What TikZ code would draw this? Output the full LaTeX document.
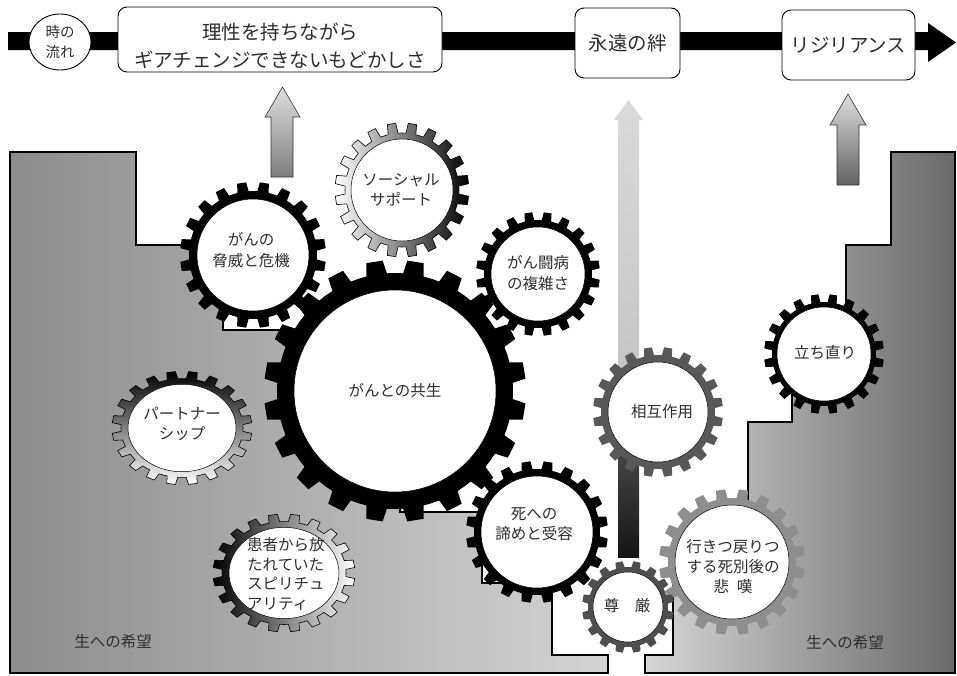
\documentclass[tikz,border=0pt]{standalone}
\usepackage{fontspec}
\setmainfont{Noto Sans CJK JP}
\usetikzlibrary{shapes.geometric}

\definecolor{txt}{HTML}{2E2E2E}
\definecolor{gearA}{HTML}{585858}
\definecolor{gearB}{HTML}{4E4E4E}
\definecolor{gearC}{HTML}{8E8E8E}
\definecolor{regLa}{HTML}{8C8C8C}
\definecolor{regLb}{HTML}{D4D4D4}
\definecolor{regRa}{HTML}{D6D6D6}
\definecolor{regRb}{HTML}{6A6A6A}
\definecolor{arrTop}{HTML}{DEDEDE}
\definecolor{arrBot}{HTML}{7E7E7E}
\definecolor{midTop}{HTML}{DADADA}
\definecolor{midMid}{HTML}{C2C2C2}
\definecolor{midLow}{HTML}{5A5A5A}
\definecolor{midBot}{HTML}{151515}

\tikzset{
  region/.style={draw=black, line width=1.4pt, line join=miter},
  topbox/.style={draw=black, line width=0.9pt, rounded corners=9pt, fill=white, inner sep=0pt},
  toptext/.style={text=txt, font=\fontsize{19.5}{28}\selectfont, align=center, inner sep=0pt},
  geartext/.style={text=txt, font=\fontsize{15.5}{20.5}\selectfont, align=center, inner sep=0pt},
  uparrow/.style={draw=black!80, line width=0.6pt},
  shadedgear/.style={draw=black, line width=0.6pt},
}

% #1 yscale, #2 x, #3 y, #4 teeth, #5 inner r, #6 root r, #7 tip r, #8 gear style
\newcommand\drawgear[8][1]{%
  \begin{scope}[shift={(#2,#3)}, yscale=#1]
    \pgfmathsetmacro\gs{360/#4}
    \path[#8] (0:#6) \foreach \i in {1,...,#4}{
      -- ({(\i-0.78)*\gs}:#6) -- ({(\i-0.70)*\gs}:#7) -- ({(\i-0.30)*\gs}:#7) -- ({(\i-0.22)*\gs}:#6) -- ({\i*\gs}:#6)
    } -- cycle;
    \path[fill=white, draw=black, line width=0.5pt] (0,0) circle[radius=#5pt];
  \end{scope}}

\begin{document}
\begin{tikzpicture}[x=1pt,y=-1pt]
\useasboundingbox (0,0) rectangle (957,675);

% gray regions
\path[region, left color=regLa, right color=regLb]
  (10,152) -- (136,152) -- (136,245) -- (223,245) -- (223,330) -- (400,330) -- (400,512)
  -- (482,512) -- (482,583) -- (552,583) -- (552,655) -- (608,655) -- (608,673) -- (10,673) -- cycle;
\path[region, left color=regRa, right color=regRb]
  (891,152) -- (955,152) -- (955,673) -- (645,673) -- (645,655) -- (673,655) -- (673,562)
  -- (748,562) -- (748,422) -- (792,422) -- (792,380) -- (846,380) -- (846,245) -- (891,245) -- cycle;

% up arrows
\path[uparrow, top color=arrTop, bottom color=arrBot]
  (271,177) -- (271,117) -- (265,117) -- (282.5,87) -- (300,117) -- (293,117) -- (293,177) -- cycle;
\path[top color=midTop, bottom color=midMid]
  (618,412) -- (618,120) -- (614,120) -- (628.5,100) -- (643,120) -- (639,120) -- (639,412) -- cycle;
\path[top color=midLow, bottom color=midBot]
  (618,557) -- (618,410) -- (639,410) -- (639,557) -- cycle;
\path[uparrow, top color=arrTop, bottom color=black!62]
  (837,185) -- (837,125) -- (830,125) -- (848,94) -- (866,125) -- (859,125) -- (859,185) -- cycle;

% time bar
\fill[black] (8,32) -- (928,32) -- (928,23) -- (956,42.5) -- (928,62) -- (928,50) -- (8,50) -- cycle;
\node[draw, ellipse, line width=0.9pt, fill=white, minimum width=62pt, minimum height=56pt, inner sep=0pt,
  text=txt, font=\fontsize{14.5}{20}\selectfont, align=center] (time) at (60,42) {時の\\流れ};
\node[topbox, minimum width=324pt, minimum height=65pt] (box1) at (280,39.5) {};
\node[toptext] (box1t) at (280,46) {理性を持ちながら\\ギアチェンジできないもどかしさ};
\node[topbox, minimum width=105pt, minimum height=70pt, toptext] (box2) at (627.5,43) {永遠の絆};
\node[topbox, minimum width=133pt, minimum height=70pt, toptext] (box3) at (848.5,45) {リジリアンス};

% gears
\drawgear{253}{255}{20}{56}{64}{73}{fill=black}
\drawgear{402}{190}{20}{51}{57}{67}{shadedgear, left color=white, right color=black}
\drawgear{538}{274}{20}{47}{54}{62}{fill=black}
\drawgear{395}{391}{20}{101}{118}{131}{fill=black}
\drawgear[0.81]{182}{428}{20}{54}{61}{70}{shadedgear, top color=black, bottom color=white}
\drawgear[0.83]{284}{573}{20}{55}{62}{71}{shadedgear, left color=black, right color=white}
\drawgear{537}{532}{20}{56}{63}{71}{fill=black}
\drawgear{658}{412}{20}{50}{57}{65}{fill=gearA}
\drawgear{732}{562}{20}{57}{64}{73}{fill=gearC}
\drawgear{628}{607}{16}{35}{40}{46}{fill=gearB}
\drawgear{824}{354}{20}{47}{52}{60}{fill=black}

% gear texts
\node[geartext] (threat) at (251,250) {がんの\\脅威と危機};
\node[geartext] (social) at (401,190) {ソーシャル\\サポート};
\node[geartext] (complex) at (538,273) {がん闘病\\の複雑さ};
\node[geartext] (coexist) at (395,391) {がんとの共生};
\node[geartext] (partner) at (182,424) {パートナー\\シップ};
\node[geartext, align=left, anchor=west, font=\fontsize{15.5}{19.5}\selectfont] (spirit) at (247,574) {患者から放\\たれていた\\スピリチュ\\アリティ};
\node[geartext] (death) at (534,524) {死への\\諦めと受容};
\node[geartext] (mutual) at (662,412) {相互作用};
\node[geartext] (dignity) at (627,606) {尊\quad 厳};
\node[geartext, font=\fontsize{15.5}{20}\selectfont] (grief) at (733,567) {行きつ戻りつ\\する死別後の\\悲\hspace{0.5em}嘆};
\node[geartext] (recover) at (825,353) {立ち直り};

% region labels
\node[geartext] (hopeL) at (113,642) {生への希望};
\node[geartext] (hopeR) at (845,643) {生への希望};
\end{tikzpicture}
\end{document}
